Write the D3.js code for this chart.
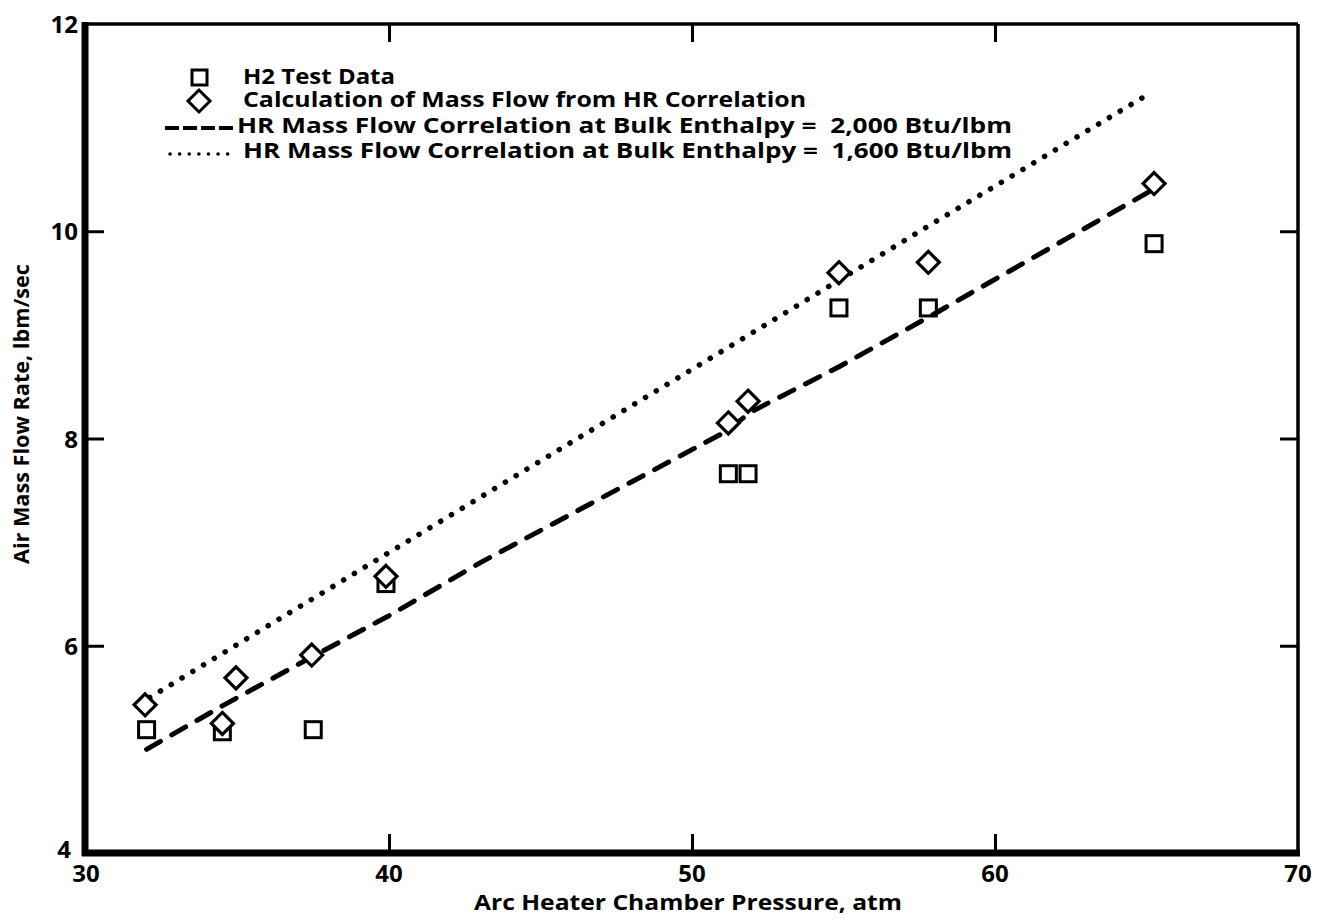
<!DOCTYPE html>
<html><head><meta charset="utf-8">
<script src="https://cdn.jsdelivr.net/npm/d3@7"></script>
<style>
html,body{margin:0;padding:0;background:#fff;}
svg text{font-family:"Open Sans",sans-serif;font-weight:700;fill:#000;}
</style></head>
<body>
<svg id="chart" width="1317" height="924"></svg>
<script>
// ---- data ----
const xTicks = [30, 40, 50, 60, 70];
const yTicks = [4, 6, 8, 10, 12];
const testX = [32, 34.5, 37.5, 39.9, 51.2, 51.85, 54.85, 57.8, 65.25];
const testY = [5.19, 5.17, 5.19, 6.6, 7.66, 7.66, 9.26, 9.26, 9.88];
const calcX = [31.95, 34.5, 34.95, 37.45, 39.9, 51.2, 51.85, 54.85, 57.8, 65.25];
const calcY = [5.43, 5.25, 5.69, 5.91, 6.67, 8.15, 8.36, 9.6, 9.7, 10.46];
const h2000X = [32, 34.5, 37.5, 40, 43, 51.2, 51.9, 54.9, 57.8, 65.2];
const h2000Y = [5.0, 5.42, 5.9, 6.29, 6.8, 8.08, 8.25, 8.7, 9.17, 10.4];
const h1600X = [32.1, 40, 51.2, 57.8, 65.1];
const h1600Y = [5.5, 6.9, 8.88, 10.05, 11.33];
const legendLabels = [
  "H2 Test Data",
  "Calculation of Mass Flow from HR Correlation",
  "HR Mass Flow Correlation at Bulk Enthalpy =  2,000 Btu/lbm",
  "HR Mass Flow Correlation at Bulk Enthalpy =  1,600 Btu/lbm"
];
const xTitle = "Arc Heater Chamber Pressure, atm";
const yTitle = "Air Mass Flow Rate, lbm/sec";

// ---- drawing ----
const svg = d3.select("#chart");
const x = d3.scaleLinear().domain([30, 70]).range([86, 1298]);
const y = d3.scaleLinear().domain([4, 12]).range([853, 24]);

// frame
svg.append("line").attr("x1", x(30)).attr("x2", x(70)).attr("y1", y(12)).attr("y2", y(12)).attr("stroke", "#000").attr("stroke-width", 3.5);
svg.append("line").attr("x1", x(70)).attr("x2", x(70)).attr("y1", y(12)).attr("y2", y(4)).attr("stroke", "#000").attr("stroke-width", 3.5);
svg.append("line").attr("x1", x(30)-1).attr("x2", x(30)-1).attr("y1", y(12)-2).attr("y2", y(4)+3).attr("stroke", "#000").attr("stroke-width", 7);
svg.append("line").attr("x1", x(30)-4).attr("x2", x(70)+2).attr("y1", y(4)).attr("y2", y(4)).attr("stroke", "#000").attr("stroke-width", 7);

// axes with inward ticks
const innerX = xTicks.slice(1, -1), innerY = yTicks.slice(1, -1);
const gB = svg.append("g").attr("transform", `translate(0,${y(4)})`)
  .call(d3.axisTop(x).tickValues(innerX).tickSize(19).tickFormat(""));
const gT = svg.append("g").attr("transform", `translate(0,${y(12)})`)
  .call(d3.axisBottom(x).tickValues(innerX).tickSize(18).tickFormat(""));
const gL = svg.append("g").attr("transform", `translate(${x(30)},0)`)
  .call(d3.axisRight(y).tickValues(innerY).tickSize(18).tickFormat(""));
const gR = svg.append("g").attr("transform", `translate(${x(70)},0)`)
  .call(d3.axisLeft(y).tickValues(innerY).tickSize(18).tickFormat(""));
[gB, gT, gL, gR].forEach(g => {
  g.select(".domain").remove();
  g.selectAll(".tick line").attr("stroke", "#000").attr("stroke-width", 3);
});

// tick labels
svg.append("g").selectAll("text").data(xTicks).join("text")
  .attr("x", d => x(d)).attr("y", 882).attr("text-anchor", "middle")
  .attr("font-size", 24).text(d => d);
svg.append("g").selectAll("text").data(yTicks).join("text")
  .attr("x", d => d === 4 ? x(30) - 15 : x(30) - 8).attr("y", d => d === 4 ? y(d) + 5 : y(d) + 9)
  .attr("text-anchor", "end").attr("font-size", 24).text(d => d);

// axis titles
svg.append("text").attr("x", 688).attr("y", 910).attr("text-anchor", "middle")
  .attr("font-size", 22).attr("textLength", 428).attr("lengthAdjust", "spacingAndGlyphs").text(xTitle);
svg.append("text").attr("transform", `translate(29,${414}) rotate(-90)`)
  .attr("text-anchor", "middle").attr("font-size", 21).attr("textLength", 300).attr("lengthAdjust", "spacingAndGlyphs").text(yTitle);

// lines
const line = d3.line().x(d => x(d[0])).y(d => y(d[1]));
svg.append("path").datum(d3.zip(h2000X, h2000Y)).attr("d", line)
  .attr("fill", "none").attr("stroke", "#000").attr("stroke-width", 5)
  .attr("stroke-linecap", "round").attr("stroke-dasharray", "16 13");
svg.append("path").datum(d3.zip(h1600X, h1600Y)).attr("d", line)
  .attr("fill", "none").attr("stroke", "#000").attr("stroke-width", 5.5)
  .attr("stroke-linecap", "round").attr("stroke-dasharray", "0.1 12.5");

// markers
const sq = 16;
svg.append("g").selectAll("rect").data(d3.zip(testX, testY)).join("rect")
  .attr("x", d => x(d[0]) - sq/2).attr("y", d => y(d[1]) - sq/2)
  .attr("width", sq).attr("height", sq)
  .attr("fill", "none").attr("stroke", "#000").attr("stroke-width", 3);
const dm = 11;
const diamond = (cx, cy) => `M${cx},${cy-dm}L${cx+dm},${cy}L${cx},${cy+dm}L${cx-dm},${cy}Z`;
svg.append("g").selectAll("path").data(d3.zip(calcX, calcY)).join("path")
  .attr("d", d => diamond(x(d[0]), y(d[1])))
  .attr("fill", "#fff").attr("stroke", "#000").attr("stroke-width", 3.2);

// legend
const lg = svg.append("g");
const rows = [84, 107, 133, 158];
const rowStart = [243, 243, 237, 243];
const rowLen = [152, 563, 775, 769];
lg.append("rect").attr("x", 192).attr("y", 70).attr("width", 15).attr("height", 15)
  .attr("fill", "none").attr("stroke", "#000").attr("stroke-width", 3);
lg.append("path").attr("d", diamond(199, 101)).attr("fill", "none").attr("stroke", "#000").attr("stroke-width", 3);
lg.append("line").attr("x1", 165).attr("x2", 233).attr("y1", 128).attr("y2", 128)
  .attr("stroke", "#000").attr("stroke-width", 4).attr("stroke-dasharray", "14 4");
lg.append("line").attr("x1", 170).attr("x2", 228).attr("y1", 154).attr("y2", 154)
  .attr("stroke", "#000").attr("stroke-width", 3.5).attr("stroke-linecap", "round").attr("stroke-dasharray", "0.1 9.5");
lg.selectAll("text").data(legendLabels).join("text")
  .attr("x", (d, i) => rowStart[i]).attr("y", (d, i) => rows[i])
  .attr("font-size", 21).attr("textLength", (d, i) => rowLen[i]).attr("lengthAdjust", "spacingAndGlyphs")
  .style("white-space", "pre").text(d => d);
</script>
</body></html>
